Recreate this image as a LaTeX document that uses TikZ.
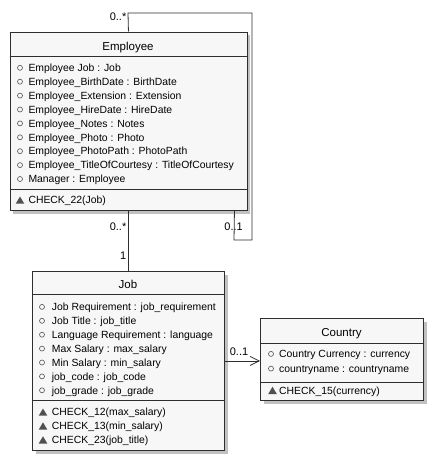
\documentclass[tikz,border=0pt]{standalone}
\usepackage{fontspec}
\setmainfont{Liberation Sans}
\usetikzlibrary{arrows.meta,shadows}
\definecolor{bfill}{HTML}{F7F7F7}
\definecolor{bline}{HTML}{2E2E2E}
\definecolor{marker}{HTML}{505050}
\tikzset{
  classbox/.style={draw=bline, line width=0.9pt, fill=bfill, inner sep=0pt,
    drop shadow={shadow xshift=3.5pt, shadow yshift=-3.5pt, opacity=0.35, fill=black!70}},
  divider/.style={draw=bline, line width=0.9pt},
  attr/.style={anchor=base west, inner sep=0pt, font=\fontsize{10.4}{12}\selectfont},
  head/.style={anchor=base, inner sep=0pt, font=\fontsize{11.5}{13}\selectfont},
  mult/.style={inner sep=0pt, font=\fontsize{11}{13}\selectfont},
  conn/.style={draw=bline, line width=0.8pt},
  circ/.style={draw=marker, line width=0.6pt},
  tri/.style={fill=marker, draw=none}
}
\newcommand{\attrrow}[4]{% x circle, x text, baseline y, text
  \draw[circ] (#1,#3-3.7) circle (2.5pt);
  \node[attr] at (#2,#3) {#4};}
\newcommand{\oprow}[4]{%
  \fill[tri] (#1-4.3,#3) -- (#1+4.3,#3) -- (#1,#3-7.2) -- cycle;
  \node[attr] at (#2,#3) {#4};}
\begin{document}
\begin{tikzpicture}[x=1pt,y=-1pt]
\useasboundingbox (0,0) rectangle (437,463);
% Employee
\node[classbox, anchor=north west, minimum width=237pt, minimum height=178.5pt] (emp) at (9.5,31.5) {};
\draw[divider] (9.5,56) -- (246.5,56);
\draw[divider] (9.5,189) -- (246.5,189);
\node[head] (empt) at (128,50) {Employee};
\attrrow{20}{28.3}{71.5}{Employee Job : Job}
\attrrow{20}{28.3}{85.4}{Employee\_BirthDate : BirthDate}
\attrrow{20}{28.3}{99.3}{Employee\_Extension : Extension}
\attrrow{20}{28.3}{113.2}{Employee\_HireDate : HireDate}
\attrrow{20}{28.3}{127.1}{Employee\_Notes : Notes}
\attrrow{20}{28.3}{141.0}{Employee\_Photo : Photo}
\attrrow{20}{28.3}{154.9}{Employee\_PhotoPath : PhotoPath}
\attrrow{20}{28.3}{168.8}{Employee\_TitleOfCourtesy : TitleOfCourtesy}
\attrrow{20}{28.3}{182.7}{Manager : Employee}
\oprow{20}{28.3}{203.7}{CHECK\_22(Job)}
% Job
\node[classbox, anchor=north west, minimum width=192pt, minimum height=179pt] (job) at (32,271) {};
\draw[divider] (32,294) -- (224,294);
\draw[divider] (32,400) -- (224,400);
\node[head] (jobt) at (128,288) {Job};
\attrrow{42}{51.7}{310.6}{Job Requirement : job\_requirement}
\attrrow{42}{51.7}{324.5}{Job Title : job\_title}
\attrrow{42}{51.7}{338.4}{Language Requirement : language}
\attrrow{42}{51.7}{352.3}{Max Salary : max\_salary}
\attrrow{42}{51.7}{366.2}{Min Salary : min\_salary}
\attrrow{42}{51.7}{380.1}{job\_code : job\_code}
\attrrow{42}{51.7}{394.0}{job\_grade : job\_grade}
\oprow{43}{51.7}{415.7}{CHECK\_12(max\_salary)}
\oprow{43}{51.7}{429.6}{CHECK\_13(min\_salary)}
\oprow{43}{51.7}{443.5}{CHECK\_23(job\_title)}
% Country
\node[classbox, anchor=north west, minimum width=163pt, minimum height=82pt] (cty) at (260,318) {};
\draw[divider] (260,343) -- (423,343);
\draw[divider] (260,382) -- (423,382);
\node[head] (ctyt) at (341.5,336) {Country};
\attrrow{271}{279}{357.6}{Country Currency : currency}
\attrrow{271}{279}{372.3}{countryname : countryname}
\oprow{272.5}{279}{394}{CHECK\_15(currency)}
% connectors
\coordinate (l1) at (128,13);
\coordinate (l2) at (252,13);
\coordinate (l3) at (252,240);
\coordinate (l4) at (234,240);
\draw[conn] (emp.north) -- (l1) -- (l2) -- (l3) -- (l4) -- ([xshift=106pt]emp.south);
\draw[conn] (emp.south) -- (job.north);
\draw[conn, -{Straight Barb[length=9pt,width=9pt]}] (job.east) -- (job.east -| cty.west);
% multiplicities
\node[mult, anchor=east] (m1) at (126.5,16.5) {0..*};
\node[mult, anchor=east] (m2) at (126.5,227) {0..*};
\node[mult, anchor=east] (m3) at (243,227) {0..1};
\node[mult, anchor=east] (m4) at (126.5,255.5) {1};
\node[mult] (m5) at (239,351.5) {0..1};
\end{tikzpicture}
\end{document}
